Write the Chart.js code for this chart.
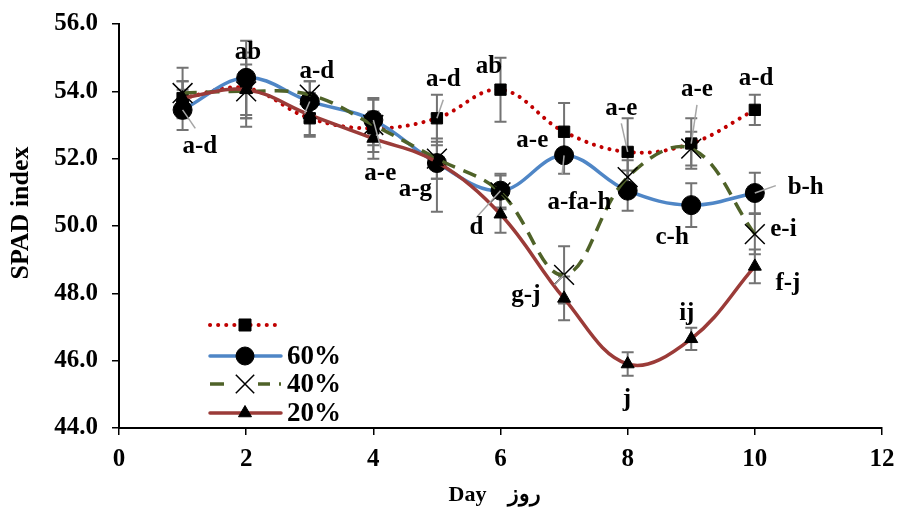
<!DOCTYPE html>
<html>
<head>
<meta charset="utf-8">
<script src="https://cdn.jsdelivr.net/npm/chart.js@4/dist/chart.umd.min.js"></script>
<style>
html,body{margin:0;padding:0;background:#fff;}
#wrap{width:898px;height:509px;position:relative;}
</style>
</head>
<body>
<div id="wrap"><canvas id="c" width="898" height="509"></canvas></div>
<script>
// ---- data ----
const days = [1, 2, 3, 4, 5, 6, 7, 8, 9, 10];
const seriesNames = ['', '60%', '40%', '20%'];
const s100 = [53.8, 54.1, 53.2, 52.9, 53.2, 54.05, 52.8, 52.2, 52.45, 53.45];
const s60  = [53.45, 54.4, 53.7, 53.15, 51.87, 51.05, 52.1, 51.05, 50.62, 50.98];
const s40  = [53.95, 54.0, 53.9, 53.0, 52.0, 51.0, 48.55, 51.45, 52.3, 49.76];
const s20  = [53.8, 54.05, 53.3, 52.6, 51.9, 50.35, 47.85, 45.9, 46.65, 48.8];
const e100 = [0.5, 0.9, 0.5, 0.5, 0.7, 0.95, 0.85, 1.0, 0.75, 0.45];
const e60  = [0.6, 1.1, 0.6, 0.6, 1.45, 0.5, 0.55, 0.6, 0.65, 0.6];
const e40  = [0.75, 0.8, 0.4, 0.8, 0.6, 0.5, 0.85, 0.5, 0.5, 0.6];
const e20  = [0.5, 1.1, 0.65, 0.6, 0.5, 0.55, 0.65, 0.35, 0.33, 0.5];
const yTicks = [44, 46, 48, 50, 52, 54, 56];
const xTicks = [0, 2, 4, 6, 8, 10, 12];
// significance letters: text, x, y (data coordinates)
const letterText = ['a-d','ab','a-d','a-e','a-g','a-d','ab','d','a-e','a-fa-h','a-e','a-e','a-d','b-h','c-h','e-i','f-j','g-j','ij','j'];
const letterX    = [1.27, 2.03, 3.11, 4.11, 4.66, 5.1, 5.82, 5.62, 6.5, 7.24, 7.9, 9.09, 10.02, 10.8, 8.7, 10.45, 10.52, 6.4, 8.93, 7.99];
const letterY    = [52.35, 55.15, 54.6, 51.55, 51.07, 54.35, 54.75, 49.94, 52.55, 50.71, 53.5, 54.04, 54.37, 51.15, 49.67, 49.88, 48.3, 47.92, 47.4, 44.85];
// leader lines: from (x1,y1) to (x2,y2) data coords
const leaders = [
  [1.0, 53.45, 1.2, 52.9],
  [3.0, 53.7, 2.92, 53.35],
  [4.0, 53.15, 4.12, 52.3],
  [5.0, 53.2, 5.1, 53.75],
  [6.0, 51.05, 5.62, 50.25],
  [7.0, 52.1, 6.97, 51.55],
  [8.0, 52.2, 7.9, 53.05],
  [9.0, 52.45, 9.09, 53.6],
  [10.0, 50.98, 10.33, 51.2],
  [7.0, 48.55, 6.85, 48.25]
];

const FONT = "'Liberation Serif', 'Times New Roman', serif";
const series = [
  {name: seriesNames[0], data: s100, err: e100, color: '#C00000', dash: [0.1, 8], width: 4, cap: 'round', style: 'rect', radius: 8, lr: 8.5},
  {name: seriesNames[1], data: s60, err: e60, color: '#4F86C6', dash: [], width: 3.5, cap: 'round', style: 'circle', radius: 9.5, lr: 9},
  {name: seriesNames[2], data: s40, err: e40, color: '#4F6228', dash: [14, 9], width: 3.5, cap: 'butt', style: 'crossRot', radius: 14, lr: 13},
  {name: seriesNames[3], data: s20, err: e20, color: '#9B3B38', dash: [], width: 3.5, cap: 'round', style: 'triangle', radius: 7.5, lr: 7.5}
];

const datasets = series.map((s, i) => ({
  label: s.name,
  data: days.map((d, j) => ({x: d, y: s.data[j]})),
  borderColor: s.color,
  borderWidth: s.width,
  borderDash: s.dash,
  borderCapStyle: s.cap,
  tension: 0.38,
  pointStyle: s.style,
  pointRadius: s.radius,
  pointBackgroundColor: '#000',
  pointBorderColor: '#000',
  pointBorderWidth: s.style === 'crossRot' ? 1.5 : 1,
  fill: false,
  order: 3 - i
}));

const extras = {
  id: 'extras',
  beforeDatasetsDraw(chart) {
    const ctx = chart.ctx, xs = chart.scales.x, ys = chart.scales.y;
    ctx.save();
    ctx.strokeStyle = '#737373';
    ctx.lineWidth = 2;
    series.forEach(s => {
      days.forEach((d, j) => {
        const px = xs.getPixelForValue(d);
        const top = ys.getPixelForValue(s.data[j] + s.err[j]);
        const bot = ys.getPixelForValue(s.data[j] - s.err[j]);
        ctx.beginPath();
        ctx.moveTo(px, top); ctx.lineTo(px, bot);
        ctx.moveTo(px - 6, top); ctx.lineTo(px + 6, top);
        ctx.moveTo(px - 6, bot); ctx.lineTo(px + 6, bot);
        ctx.stroke();
      });
    });
    ctx.restore();
  },
  afterDraw(chart) {
    const ctx = chart.ctx, xs = chart.scales.x, ys = chart.scales.y;
    ctx.save();
    // leaders
    ctx.strokeStyle = '#a6a6a6';
    ctx.lineWidth = 1.5;
    leaders.forEach(l => {
      ctx.beginPath();
      ctx.moveTo(xs.getPixelForValue(l[0]), ys.getPixelForValue(l[1]));
      ctx.lineTo(xs.getPixelForValue(l[2]), ys.getPixelForValue(l[3]));
      ctx.stroke();
    });
    // letters
    ctx.fillStyle = '#000';
    ctx.font = 'bold 25px ' + FONT;
    ctx.textAlign = 'center';
    ctx.textBaseline = 'middle';
    letterText.forEach((t, i) => {
      ctx.fillText(t, xs.getPixelForValue(letterX[i]), ys.getPixelForValue(letterY[i]));
    });
    // legend
    const lx0 = 210, lx1 = 281, rows = [325, 356, 384, 413];
    series.forEach((s, i) => {
      const y = rows[i];
      ctx.save();
      ctx.strokeStyle = s.color;
      ctx.lineWidth = s.width;
      ctx.setLineDash(s.dash);
      ctx.lineCap = s.cap;
      ctx.beginPath();
      ctx.moveTo(lx0, y); ctx.lineTo(lx1, y);
      ctx.stroke();
      ctx.restore();
      if (s.style === 'crossRot') {
        ctx.save(); ctx.fillStyle = '#fff'; ctx.fillRect(232, y - 6, 26, 12); ctx.restore();
      }
      ctx.save();
      ctx.fillStyle = '#000'; ctx.strokeStyle = '#000'; ctx.lineWidth = s.style === 'crossRot' ? 1.5 : 1;
      Chart.helpers.drawPoint(ctx, {pointStyle: s.style, radius: s.lr, borderWidth: ctx.lineWidth, rotation: 0}, 245, y);
      ctx.restore();
      ctx.fillStyle = '#000';
      ctx.font = 'bold 27px ' + FONT;
      ctx.textAlign = 'left';
      ctx.textBaseline = 'middle';
      if (s.name) ctx.fillText(s.name, 287, y + 1);
    });
    ctx.restore();
  }
};

new Chart(document.getElementById('c'), {
  type: 'line',
  data: {datasets},
  options: {
    responsive: false,
    animation: false,
    devicePixelRatio: 1,
    layout: {padding: {left: 0, right: 16, top: 24, bottom: 0}},
    plugins: {legend: {display: false}, tooltip: {enabled: false}},
    scales: {
      x: {
        type: 'linear', min: 0, max: 12,
        afterBuildTicks: sc => { sc.ticks = xTicks.map(v => ({value: v})); },
        afterFit: sc => { sc.height = 81; sc.paddingLeft = 0; sc.paddingRight = 0; },
        ticks: {color: '#000', font: {family: FONT, size: 25, weight: 'bold'}, padding: 10, maxRotation: 0},
        grid: {drawOnChartArea: false, tickLength: 7, color: '#000', lineWidth: 1.5},
        border: {color: '#000', width: 2},
        title: {display: true, text: 'Day    روز  ', color: '#000', font: {family: FONT, size: 22, weight: 'bold'}, padding: {top: 0, bottom: 0}}
      },
      y: {
        type: 'linear', min: 44, max: 56,
        afterBuildTicks: sc => { sc.ticks = yTicks.map(v => ({value: v})); },
        afterFit: sc => { sc.width = 119; sc.paddingTop = 0; sc.paddingBottom = 0; },
        ticks: {color: '#000', font: {family: FONT, size: 25, weight: 'bold'}, padding: 14, callback: v => Number(v).toFixed(1)},
        grid: {drawOnChartArea: false, tickLength: 7, color: '#000', lineWidth: 1.5},
        border: {color: '#000', width: 2},
        title: {display: true, text: '    SPAD index', color: '#000', font: {family: FONT, size: 26, weight: 'bold'}, padding: {top: 6, bottom: 0}}
      }
    }
  },
  plugins: [extras]
});
</script>
</body>
</html>
